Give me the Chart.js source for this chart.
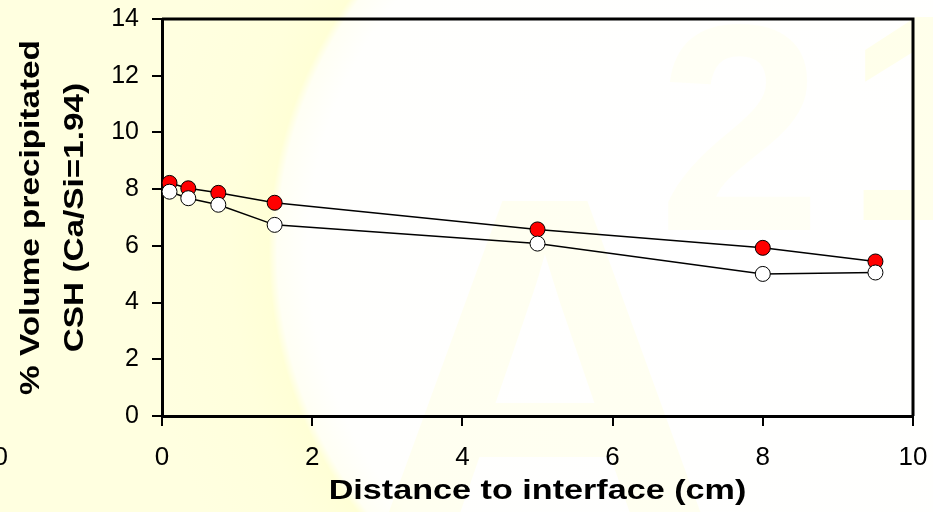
<!DOCTYPE html>
<html>
<head>
<meta charset="utf-8">
<title>% Volume precipitated CSH</title>
<script src="https://cdn.jsdelivr.net/npm/chart.js@4"></script>
<style>
  html, body { margin: 0; padding: 0; background: #FFFFE0; }
  #wrap { width: 933px; height: 512px; }
</style>
</head>
<body>
<div id="wrap"><canvas id="chart" width="933" height="512"></canvas></div>
<script>
// ----- data -----
const distances = [0.1, 0.35, 0.75, 1.5, 5, 8, 9.5];            // cm
const redSeries = [8.22, 8.03, 7.87, 7.52, 6.58, 5.93, 5.45];    // filled red dots
const whiteSeries = [7.91, 7.68, 7.45, 6.74, 6.08, 5.01, 5.06];  // open white dots
const xTicks = [0, 2, 4, 6, 8, 10];
const yTicks = [0, 2, 4, 6, 8, 10, 12, 14];
const xTitle = "Distance to interface (cm)";
const yTitle = ["% Volume precipitated", "CSH (Ca/Si=1.94)"];

const FONT = "'Liberation Sans', Arial, sans-serif";

// ----- background with the faint watermark -----
const backdrop = {
  id: "backdrop",
  beforeDraw(chart) {
    const ctx = chart.ctx;
    ctx.save();
    const g = ctx.createRadialGradient(700, 250, 0, 700, 250, 560);
    g.addColorStop(0, "#FFFFFF");
    g.addColorStop(0.70, "#FFFFFD");
    g.addColorStop(0.755, "#FFFFF4");
    g.addColorStop(0.77, "#FFFFD6");
    g.addColorStop(0.84, "#FFFFDC");
    g.addColorStop(1, "#FFFFE0");
    ctx.fillStyle = g;
    ctx.fillRect(0, 0, chart.width, chart.height);

    ctx.font = "bold 500px " + FONT;
    ctx.textAlign = "center";
    ctx.textBaseline = "alphabetic";
    ctx.fillStyle = "rgba(255,255,150,0.12)";
    ctx.fillText("A", 545, 545);

    ctx.font = "bold 295px " + FONT;
    ctx.textAlign = "left";
    ctx.fillStyle = "rgba(255,255,150,0.09)";
    ctx.fillText("2", 658, 230);
    ctx.fillStyle = "rgba(255,255,150,0.18)";
    ctx.fillText("1", 845, 220);

    // stray label peeking at the left edge
    ctx.font = "26px " + FONT;
    ctx.textAlign = "right";
    ctx.textBaseline = "middle";
    ctx.fillStyle = "#000";
    ctx.fillText("10", 8, 458);
    ctx.restore();
  }
};

// ----- top and right frame lines, axis titles (wide lettering) -----
const frame = {
  id: "frame",
  beforeDatasetsDraw(chart) {
    const { ctx, chartArea: a } = chart;
    ctx.save();
    ctx.strokeStyle = "#000";
    ctx.lineWidth = 3;
    ctx.beginPath();
    ctx.moveTo(a.left, a.top);
    ctx.lineTo(a.right, a.top);
    ctx.lineTo(a.right, a.bottom);
    ctx.stroke();
    ctx.restore();
  },
  afterDraw(chart) {
    const { ctx, chartArea: a } = chart;
    ctx.save();
    ctx.fillStyle = "#000";
    ctx.font = "bold 28px " + FONT;
    ctx.textAlign = "center";
    ctx.textBaseline = "middle";
    // x title
    ctx.save();
    ctx.translate((a.left + a.right) / 2, 491);
    ctx.scale(1.22, 1);
    ctx.fillText(xTitle, 0, 0);
    ctx.restore();
    // y title, two lines
    const cy = (a.top + a.bottom) / 2;
    [31, 75].forEach((x, i) => {
      ctx.save();
      ctx.translate(x, cy);
      ctx.rotate(-Math.PI / 2);
      ctx.scale(1.19, 1);
      ctx.fillText(yTitle[i], 0, 0);
      ctx.restore();
    });
    ctx.restore();
  }
};

const toPoints = ys => distances.map((x, i) => ({ x, y: ys[i] }));

new Chart(document.getElementById("chart"), {
  type: "line",
  data: {
    datasets: [
      {
        label: "open",
        data: toPoints(whiteSeries),
        borderColor: "#000",
        borderWidth: 1.5,
        pointBackgroundColor: "#FFFFFF",
        pointBorderColor: "#000",
        pointBorderWidth: 1,
        pointRadius: 7.5,
        tension: 0,
        fill: false
      },
      {
        label: "filled",
        data: toPoints(redSeries),
        borderColor: "#000",
        borderWidth: 1.5,
        pointBackgroundColor: "#FF0000",
        pointBorderColor: "#000",
        pointBorderWidth: 1,
        pointRadius: 7.5,
        tension: 0,
        fill: false
      }
    ]
  },
  options: {
    responsive: false,
    animation: false,
    layout: { padding: { top: 19, right: 20, left: 0, bottom: 0 } },
    plugins: { legend: { display: false }, tooltip: { enabled: false } },
    scales: {
      x: {
        type: "linear",
        min: 0,
        max: 10,
        afterBuildTicks: s => { s.ticks = xTicks.map(v => ({ value: v })); },
        afterFit: s => { s.height = 96; s.paddingLeft = 0; s.paddingRight = 0; },
        grid: { drawOnChartArea: false, drawTicks: true, tickLength: 10, color: "#000", lineWidth: 2 },
        border: { color: "#000", width: 3 },
        ticks: { color: "#000", font: { family: FONT, size: 26 }, padding: 16, maxRotation: 0 },
        title: { display: false }
      },
      y: {
        min: 0,
        max: 14,
        afterBuildTicks: s => { s.ticks = yTicks.map(v => ({ value: v })); },
        afterFit: s => { s.width = 162; s.paddingTop = 0; s.paddingBottom = 0; },
        grid: { drawOnChartArea: false, drawTicks: true, tickLength: 10, color: "#000", lineWidth: 2 },
        border: { color: "#000", width: 3 },
        ticks: { color: "#000", font: { family: FONT, size: 25 }, padding: 13 },
        title: { display: false }
      }
    }
  },
  plugins: [backdrop, frame]
});
</script>
</body>
</html>
